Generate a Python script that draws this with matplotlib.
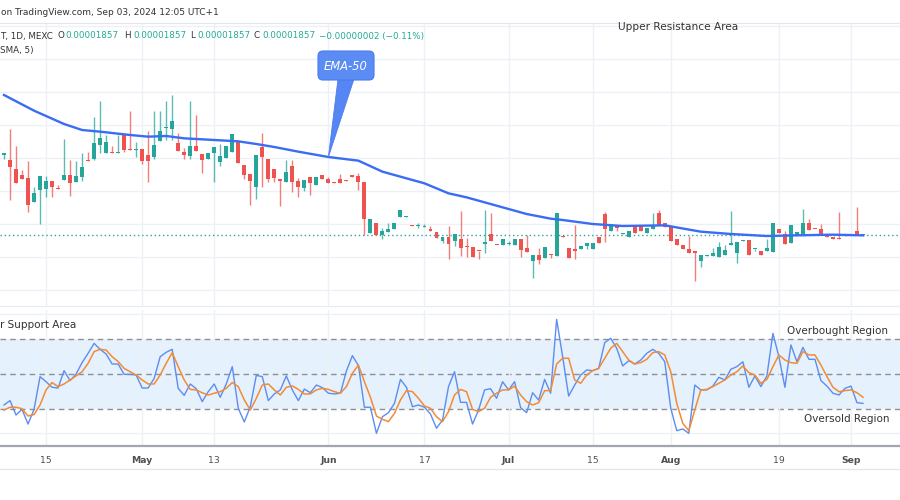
import matplotlib
matplotlib.use("Agg")
import matplotlib.pyplot as plt
import numpy as np
from matplotlib.patches import FancyBboxPatch, Polygon
from matplotlib.lines import Line2D

# daily candles, price in units of 1e-8
opens = [2097, 2083, 2057, 2037, 2029, 1957, 1993, 1997, 2019, 1999,
         2023, 2037, 2017, 2033, 2083, 2087, 2129, 2105, 2107, 2103,
         2157, 2115, 2113, 2117, 2097, 2093, 2141, 2180, 2175, 2135,
         2107, 2095, 2125, 2101, 2087, 2103, 2077, 2089, 2107, 2139,
         2067, 2041, 2001, 2123, 2085, 2057, 2025, 2017, 2065, 2019,
         1999, 2031, 2007, 2037, 2025, 2017, 2025, 2023, 2039, 2035,
         2017, 1865, 1895, 1857, 1867, 1875, 1913, 1913, 1887, 1885,
         1883, 1877, 1867, 1841, 1853, 1841, 1845, 1825, 1823, 1811,
         1831, 1861, 1829, 1827, 1831, 1829, 1845, 1819, 1781, 1799,
         1789, 1801, 1795, 1855, 1819, 1815, 1815, 1825, 1815, 1851,
         1921, 1869, 1887, 1861, 1851, 1883, 1885, 1865, 1877, 1923,
         1893, 1881, 1847, 1827, 1817, 1811, 1779, 1795, 1795, 1793,
         1797, 1829, 1805, 1841, 1843, 1815, 1809, 1809, 1807, 1877,
         1861, 1833, 1857, 1861, 1893, 1877, 1877, 1857, 1853, 1849,
         1858, 1859, 1869, 1857]
highs = [2105, 2175, 2125, 2053, 2081, 2003, 2035, 2035, 2019, 2007,
         2145, 2083, 2081, 2105, 2107, 2213, 2261, 2157, 2125, 2159,
         2157, 2231, 2137, 2117, 2169, 2231, 2231, 2261, 2277, 2165,
         2119, 2261, 2217, 2101, 2105, 2121, 2131, 2125, 2161, 2139,
         2067, 2041, 2099, 2163, 2085, 2057, 2025, 2083, 2083, 2029,
         2023, 2031, 2031, 2037, 2031, 2017, 2041, 2023, 2039, 2043,
         2017, 1907, 1895, 1879, 1893, 1895, 1933, 1915, 1887, 1893,
         1891, 1885, 1867, 1853, 1885, 1861, 1931, 1849, 1823, 1811,
         1933, 1925, 1829, 1847, 1841, 1847, 1845, 1859, 1799, 1819,
         1823, 1801, 1925, 1855, 1819, 1887, 1825, 1833, 1833, 1851,
         1927, 1887, 1887, 1863, 1869, 1883, 1885, 1879, 1923, 1933,
         1893, 1881, 1847, 1827, 1855, 1811, 1797, 1797, 1819, 1837,
         1829, 1929, 1837, 1843, 1843, 1817, 1809, 1847, 1895, 1877,
         1869, 1887, 1867, 1937, 1907, 1877, 1891, 1857, 1853, 1927,
         1858, 1861, 1943, 1857]
lows = [2085, 1963, 2015, 2027, 1927, 1957, 1891, 1971, 1971, 1997,
        2023, 1975, 2017, 2021, 2079, 2083, 2103, 2105, 2103, 2103,
        2107, 2113, 2093, 2071, 2017, 2085, 2141, 2143, 2143, 2111,
        2087, 2087, 2111, 2045, 2087, 2017, 2065, 2089, 2107, 2073,
        2025, 1947, 1967, 2001, 2017, 2017, 1945, 2017, 1987, 1973,
        1991, 1979, 2007, 2025, 2015, 2015, 2015, 2019, 2033, 1993,
        1857, 1865, 1857, 1845, 1867, 1875, 1913, 1913, 1885, 1879,
        1883, 1869, 1849, 1833, 1785, 1825, 1795, 1793, 1793, 1785,
        1805, 1839, 1827, 1827, 1829, 1829, 1793, 1807, 1729, 1771,
        1789, 1789, 1795, 1851, 1789, 1787, 1815, 1817, 1815, 1835,
        1837, 1869, 1869, 1861, 1851, 1865, 1869, 1865, 1877, 1889,
        1883, 1841, 1829, 1815, 1805, 1719, 1763, 1795, 1795, 1793,
        1797, 1829, 1773, 1841, 1797, 1809, 1797, 1809, 1807, 1865,
        1831, 1833, 1857, 1861, 1873, 1875, 1857, 1851, 1845, 1845,
        1856, 1859, 1859, 1857]
closes = [2105, 2061, 2015, 2027, 1947, 1985, 2035, 2019, 2003, 1997,
          2039, 2015, 2035, 2061, 2079, 2135, 2149, 2137, 2103, 2105,
          2113, 2113, 2115, 2081, 2081, 2127, 2171, 2181, 2199, 2111,
          2099, 2125, 2111, 2083, 2105, 2121, 2095, 2125, 2161, 2073,
          2039, 2021, 2099, 2093, 2027, 2029, 2021, 2047, 2017, 2001,
          2023, 2015, 2031, 2025, 2015, 2015, 2015, 2019, 2033, 2017,
          1907, 1907, 1857, 1869, 1877, 1895, 1933, 1915, 1885, 1889,
          1885, 1869, 1849, 1853, 1831, 1861, 1819, 1823, 1793, 1809,
          1837, 1839, 1827, 1847, 1835, 1847, 1813, 1807, 1799, 1783,
          1823, 1797, 1925, 1851, 1789, 1811, 1825, 1833, 1833, 1835,
          1875, 1887, 1879, 1863, 1869, 1865, 1869, 1879, 1885, 1889,
          1883, 1841, 1829, 1815, 1805, 1805, 1797, 1797, 1805, 1821,
          1813, 1833, 1837, 1843, 1797, 1817, 1797, 1819, 1895, 1865,
          1831, 1887, 1867, 1893, 1873, 1875, 1857, 1851, 1845, 1845,
          1856, 1861, 1859, 1857]
last_price = 1857

# EMA-50 read at a few bars
ema_idx = [0, 5, 10, 13, 16, 21, 24, 27, 30, 35, 39, 42, 45, 49, 54, 59, 63, 66,
           70, 74, 77, 81, 87, 91, 93, 98, 103, 110, 116, 121, 127, 132, 138, 143]
ema_val = [2278, 2231, 2191, 2173, 2168, 2158, 2153, 2155, 2148, 2143, 2139, 2131,
           2122, 2108, 2092, 2081, 2048, 2033, 2013, 1983, 1971, 1951, 1921, 1907,
           1903, 1891, 1885, 1887, 1868, 1861, 1855, 1857, 1859, 1857]

rsi = [32.3, 34.8, 26.6, 29.8, 21.4, 29.8, 48.5, 45.6, 42.4, 42.0,
       51.9, 46.2, 50.0, 56.5, 61.8, 67.5, 64.1, 61.4, 55.7, 55.7,
       49.8, 49.8, 49.4, 42.0, 42.0, 47.5, 59.9, 62.4, 64.1, 41.8,
       37.8, 44.3, 41.6, 34.2, 39.9, 44.3, 36.7, 44.3, 54.2, 30.4,
       22.6, 31.3, 49.2, 48.5, 34.8, 38.6, 40.9, 48.9, 40.9, 34.8,
       41.4, 39.3, 43.7, 42.2, 39.0, 38.6, 39.0, 51.7, 60.5, 54.8,
       31.0, 31.0, 16.1, 25.6, 27.9, 33.2, 46.9, 42.4, 31.3, 32.3,
       31.0, 27.1, 19.0, 23.7, 42.8, 51.3, 33.8, 33.8, 21.4, 29.4,
       40.9, 41.6, 36.1, 45.6, 40.9, 45.6, 30.8, 27.9, 39.3, 35.1,
       46.9, 39.0, 81.2, 59.9, 37.4, 43.7, 49.4, 52.3, 51.9, 53.2,
       67.9, 70.4, 64.7, 54.6, 57.6, 55.7, 58.0, 61.8, 64.1, 61.8,
       57.0, 30.4, 17.6, 18.6, 16.1, 43.7, 40.9, 40.9, 43.1, 48.1,
       46.6, 52.7, 54.2, 57.0, 42.4, 48.9, 42.8, 48.9, 73.2, 59.9,
       42.4, 66.6, 57.0, 65.2, 58.4, 58.4, 46.2, 43.1, 39.0, 38.0,
       41.8, 43.1, 33.6, 33.2]
rsi_ma = [29.4, 31.0, 31.0, 30.2, 26.0, 26.8, 32.3, 40.9, 45.1, 42.8,
          44.3, 46.6, 48.9, 51.3, 56.1, 62.8, 64.1, 63.7, 59.9, 57.1,
          53.2, 51.3, 49.4, 46.6, 44.3, 44.3, 49.4, 56.1, 62.2, 54.2,
          46.6, 41.2, 40.9, 39.3, 38.0, 39.0, 39.9, 41.8, 45.1, 42.8,
          35.2, 29.4, 36.1, 43.7, 44.3, 40.9, 38.0, 42.4, 43.2, 41.2,
          38.6, 38.6, 40.9, 41.8, 41.2, 39.9, 39.0, 42.8, 50.4, 55.1,
          45.6, 36.7, 26.0, 24.1, 22.8, 27.5, 35.2, 40.5, 39.9, 36.1,
          31.7, 30.4, 25.6, 22.8, 28.5, 38.0, 41.2, 39.9, 29.8, 28.5,
          30.4, 36.7, 39.0, 40.9, 40.9, 43.1, 38.0, 34.2, 32.3, 33.6,
          40.5, 40.5, 55.7, 59.0, 59.0, 46.6, 44.7, 49.4, 51.9, 53.2,
          59.0, 64.7, 67.5, 62.8, 58.0, 55.7, 56.5, 58.4, 62.2, 62.8,
          60.9, 51.3, 33.2, 21.8, 17.6, 29.4, 40.9, 41.2, 42.8, 44.7,
          46.6, 49.4, 51.3, 54.6, 50.8, 49.4, 44.7, 46.9, 54.2, 60.9,
          58.0, 56.5, 56.1, 62.8, 60.9, 60.9, 55.1, 48.5, 42.4, 39.9,
          40.5, 40.9, 39.3, 36.7]

tick_idx = [7, 23, 35, 54, 70, 84, 98, 111, 129, 141]
tick_labels = ["15", "May", "13", "Jun", "17", "Jul", "15", "Aug", "19", "Sep"]

UP = "#26a69a"
DOWN = "#ef5350"
GRID = "#edf1f6"
TEAL_TXT = "#22ab94"
TXT = "#333333"

fig = plt.figure(figsize=(9, 5), dpi=100)
fig.patch.set_facecolor("white")


def fy(py):
    return 1 - py / 500


ax = fig.add_axes([0, fy(306), 1, (306 - 23) / 500])
ax2 = fig.add_axes([0, fy(446), 1, (446 - 310) / 500])

o = np.array(opens)
h = np.array(highs)
l = np.array(lows)
c = np.array(closes)
x = np.arange(len(c))
xlim = (-0.666, 149.16)

# price pane
colors = np.where(c >= o, UP, DOWN)
ax.vlines(x, l, h, colors=colors, lw=1.0, alpha=0.75, zorder=3)
ax.bar(x, np.maximum(np.abs(c - o), 2.5), 0.66, np.minimum(o, c),
       color=colors, lw=0, zorder=4)
ax.axhline(last_price, color=UP, lw=1, ls=(0, (1, 2)), zorder=2)
ax.plot(ema_idx, ema_val, color="#3a6cf4", lw=1.7, zorder=5)

ax.set_xlim(*xlim)
ax.set_ylim(1645, 2494)
ax.set_xticks(tick_idx)
ax.set_yticks(np.arange(1693, 2500, 99))
ax.grid(True, color=GRID, lw=1)
ax.tick_params(left=False, labelleft=False, bottom=False, labelbottom=False)
for s in ["left", "right"]:
    ax.spines[s].set_visible(False)
ax.spines["top"].set_color("#e3e6ec")
ax.spines["bottom"].set_color("#e8ebf0")

# callout box "EMA-50"
tr = fig.dpi_scale_trans
tail = Polygon([(3.38, 4.21), (3.54, 4.21), (3.284, 5 - 1.57)], closed=True,
               facecolor="#5586f3", edgecolor="#4d7ef0", lw=0.6, transform=tr, zorder=6)
fig.add_artist(tail)
box = FancyBboxPatch((3.19, 4.21), 0.54, 0.27, boxstyle="round,pad=0.01,rounding_size=0.05",
                     facecolor="#5a8cf3", edgecolor="#4a7bee", lw=0.8, transform=tr, zorder=7)
fig.add_artist(box)
fig.text(3.46 / 9, fy(66), "EMA-50", color="white", fontsize=8.3, style="italic",
         ha="center", va="center", zorder=8)

# RSI pane
ax2.axhspan(30, 70, color="#e5f1fc", lw=0, zorder=0)
for lvl in [70, 50, 30]:
    ax2.axhline(lvl, color="#8d9099", lw=1, ls=(0, (4, 3)), zorder=1)
ax2.plot(x, rsi, color="#5d8df0", lw=1.0, zorder=3)
ax2.plot(x, rsi_ma, color="#f38b34", lw=1.1, zorder=4)
ax2.set_xlim(*xlim)
ax2.set_ylim(8.86, 86.57)
ax2.set_yticks([16.3, 32.9, 67.1, 84.3])
ax2.set_xticks(tick_idx, tick_labels)
ax2.grid(True, color=GRID, lw=1, zorder=0)
ax2.tick_params(left=False, labelleft=False, length=0, pad=7, labelsize=6.7,
                labelcolor="#505050")
for lab in ax2.get_xticklabels():
    if not lab.get_text().isdigit():
        lab.set_fontweight("bold")
for s in ["left", "right", "top"]:
    ax2.spines[s].set_visible(False)
ax2.spines["bottom"].set_color("#a3a6ae")
ax2.spines["bottom"].set_linewidth(1.6)

fig.add_artist(Line2D([0, 1], [fy(469), fy(469)], color="#e3e6ec", lw=1))

# texts
fig.text(1 / 900, fy(12.5), "on TradingView.com, Sep 03, 2024 12:05 UTC+1",
         fontsize=6.5, color=TXT, va="center")
legend_parts = [("T, 1D, MEXC", 0, TXT), ("O", 58, TXT), ("0.00001857", 65, TEAL_TXT),
                ("H", 124, TXT), ("0.00001857", 133, TEAL_TXT),
                ("L", 190, TXT), ("0.00001857", 197, TEAL_TXT),
                ("C", 254, TXT), ("0.00001857", 262, TEAL_TXT),
                ("\u22120.00000002 (\u22120.11%)", 319, TEAL_TXT)]
for txt, px, col in legend_parts:
    fig.text(px / 900, fy(36), txt, fontsize=6.3, color=col, va="center")
fig.text(0, fy(51), "SMA, 5)", fontsize=6.3, color=TXT, va="center")

fig.text(618 / 900, fy(27), "Upper Resistance Area", fontsize=7.6, color=TXT, va="center")
fig.text(0, fy(325), "r Support Area", fontsize=7.5, color=TXT, va="center")
fig.text(787 / 900, fy(331), "Overbought Region", fontsize=7.5, color=TXT, va="center")
fig.text(804 / 900, fy(419), "Oversold Region", fontsize=7.5, color=TXT, va="center")

fig.savefig("out.png", dpi=100, facecolor="white")
